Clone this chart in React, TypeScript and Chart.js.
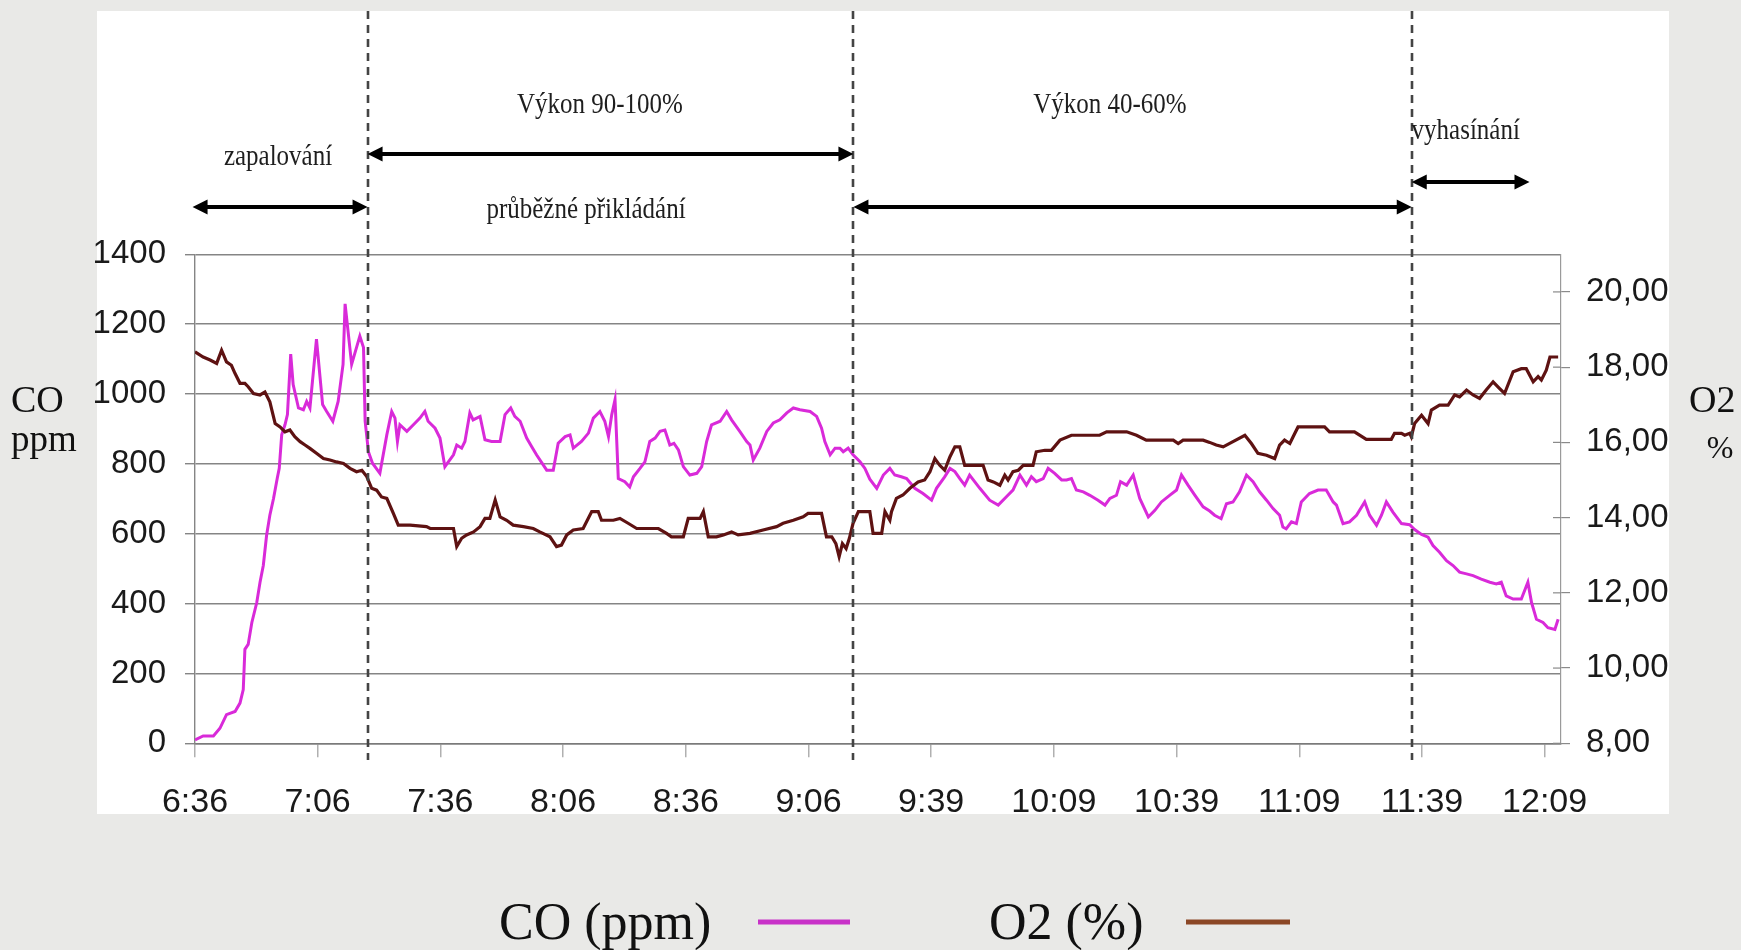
import React, { useEffect, useRef } from "react";
import { Chart, registerables } from "chart.js";

Chart.register(...registerables);

// ---- Data (x = sample index, one label every 30 samples) ----
const TIME_LABELS = ["6:36", "7:06", "7:36", "8:06", "8:36", "9:06", "9:39", "10:09", "10:39", "11:09", "11:39", "12:09"];
const SAMPLES_PER_LABEL = 30;
const X_MAX = 334;

const CO_TICKS = [0, 200, 400, 600, 800, 1000, 1200, 1400];
const O2_TICKS = [8, 10, 12, 14, 16, 18, 20];

const CO_T = [
  0, 2, 4.5, 6.1, 7.7, 9.8, 11, 11.8, 12.2, 13, 13.9, 15.1, 15.9, 16.7, 17.5, 18.3, 19.2, 20.1, 20.6, 21.2,
  22, 22.6, 23.4, 24, 25.3, 26.5, 27.3, 28.1, 29.7, 31.2, 32.2, 33.7, 35, 36.2, 36.7, 38.3, 40.3, 41.2, 41.6, 42.4,
  43.4, 45.2, 46.9, 48.1, 48.9, 49.5, 50.1, 51.8, 53.4, 55, 56.2, 57, 58.7, 59.9, 61.1, 63.2, 64, 65.2, 66, 67.2,
  68, 69.7, 70.9, 72.5, 74.6, 75.8, 77.2, 78.2, 79.5, 81.1, 82.3, 83.5, 86, 87.6, 88.8, 90.5, 91.7, 92.5, 94.5, 96.2,
  97.4, 99, 100.2, 101.1, 101.9, 102.7, 103.5, 105.1, 106.3, 107.2, 108.8, 110, 111.2, 112.5, 113.7, 114.9, 116.1, 117.1, 118.2, 119.4,
  121, 122.7, 123.9, 125.1, 126.3, 128.4, 130, 131.2, 133.2, 134.9, 135.7, 136.5, 138.1, 139.8, 141.4, 143, 144.7, 146.3, 147.9, 150.4,
  152, 153.2, 154, 155.3, 156.5, 157.7, 158.5, 159.7, 160.9, 162.6, 163.8, 165, 166.7, 168.3, 169.9, 171.1, 172.7, 174, 176, 178,
  180.1, 181.3, 183.3, 184.6, 185.8, 187, 188.2, 189.4, 191.9, 194.3, 196.4, 198.4, 200, 201.7, 203.3, 204.5, 205.7, 207.4, 208.6, 210.2,
  211.9, 213.1, 214.3, 215.5, 217.2, 218.8, 220.8, 222.5, 223.7, 225.3, 226.3, 227.8, 229.4, 231, 233.1, 234.7, 236.3, 238.3, 240, 241.2,
  242.8, 244.5, 246.5, 248.1, 249.3, 250.9, 252.2, 253.8, 255.4, 257.1, 258.7, 260.3, 262, 263.6, 265.2, 266, 266.8, 268.1, 269.3, 270.5,
  272.5, 274.6, 276.6, 278.3, 279.1, 280.7, 282.3, 284, 286, 287.2, 288.9, 290.1, 291.3, 292.9, 295, 297, 298.2, 299.9, 301.5, 302.7,
  304.3, 306, 307.6, 309.2, 310.9, 312.5, 314.5, 316.6, 318.2, 319.4, 320.6, 322.3, 324.3, 325.9, 326.8, 328, 329.6, 330.8, 332.5, 333.3,
];
const CO_PPM = [
  10, 21, 21, 43, 82, 91, 115, 154, 269, 283, 346, 403, 461, 509, 595, 653, 701, 758, 787, 883,
  912, 941, 1114, 1027, 960, 955, 979, 960, 1157, 970, 950, 922, 979, 1085, 1258, 1085, 1166, 1133, 922, 835,
  802, 773, 883, 950, 931, 864, 912, 893, 912, 931, 950, 922, 902, 874, 792, 826, 854, 845, 864, 946,
  926, 936, 869, 864, 864, 941, 960, 936, 922, 874, 850, 826, 782, 782, 859, 878, 883, 845, 864, 888,
  931, 950, 922, 878, 941, 984, 758, 749, 734, 763, 787, 806, 864, 874, 893, 897, 854, 859, 840, 792,
  768, 773, 792, 864, 912, 922, 950, 926, 893, 864, 854, 811, 845, 893, 917, 926, 946, 960, 955, 950,
  936, 902, 864, 826, 845, 845, 835, 845, 826, 806, 787, 756, 730, 768, 787, 768, 763, 758, 730, 715,
  696, 730, 763, 787, 778, 758, 739, 768, 730, 696, 682, 706, 725, 768, 739, 763, 749, 758, 787, 773,
  754, 754, 758, 725, 720, 710, 696, 682, 701, 710, 749, 739, 768, 701, 648, 667, 691, 710, 725, 768,
  739, 710, 677, 665, 653, 643, 686, 691, 720, 768, 749, 720, 696, 672, 653, 619, 614, 634, 629, 691,
  715, 725, 725, 691, 682, 629, 634, 653, 691, 653, 624, 653, 691, 662, 629, 626, 612, 598, 590, 566,
  547, 523, 509, 490, 485, 480, 470, 461, 456, 461, 422, 413, 413, 461, 403, 355, 346, 331, 326, 355,
];

const O2_T = [
  0, 2, 3.7, 5.3, 6.5, 7.7, 8.9, 9.8, 11, 12.2, 13, 14.3, 15.9, 17.1, 18.3, 19.6, 20.8, 22, 23.2, 24.4,
  25.7, 26.9, 28.1, 29.7, 31.4, 33, 34.6, 36.3, 37.9, 39.5, 40.8, 42, 43.2, 44.4, 45.6, 46.9, 48.5, 49.7, 52.6, 56.6,
  57.5, 63.2, 64, 65.2, 66.4, 68.1, 69.7, 70.9, 72.1, 73.4, 74.6, 76.2, 77.8, 80.3, 82.7, 84.3, 86.8, 88.4, 89.6, 90.9,
  92.5, 94.9, 97, 98.6, 99.4, 102.3, 103.9, 105.9, 108, 113.3, 115.3, 116.5, 119.4, 120.6, 123.5, 124.3, 125.5, 127.5, 129.2, 131.2,
  132.8, 135.7, 138.9, 142.2, 143.8, 146.3, 148.7, 149.9, 153.2, 154.4, 155.7, 156.7, 157.5, 158.3, 159.2, 160, 160.9, 162.2, 165, 165.8,
  167.9, 168.7, 169.9, 170.3, 171.5, 173.1, 174.8, 176.8, 178.4, 179.7, 180.9, 182.1, 183.3, 184.6, 185.8, 187, 188.2, 192.7, 193.9, 195.2,
  196.8, 198, 198.8, 200, 201.3, 202.5, 204.9, 205.7, 207.8, 209.4, 211.5, 214.3, 221.2, 222.9, 227.8, 230.2, 232.6, 239.2, 240.4, 241.6,
  246.5, 248.1, 249.7, 251.4, 253.8, 256.7, 258.3, 259.9, 262, 264, 265.2, 266.4, 267.7, 268.5, 269.7, 276.2, 277.4, 283.5, 286.4, 292.5,
  293.3, 295, 295.8, 297, 297.4, 298.2, 299.9, 301.5, 302.3, 304.3, 306.4, 308, 309.2, 310.9, 312.5, 314.1, 315.7, 317.4, 319, 320.2,
  322.3, 324.3, 325.5, 327.2, 328.4, 329.2, 330.4, 331.3, 333.3,
];
const O2_PCT = [
  18.41, 18.27, 18.19, 18.1, 18.45, 18.14, 18.05, 17.83, 17.57, 17.57, 17.48, 17.3, 17.26, 17.34, 17.08, 16.5, 16.41, 16.28, 16.33, 16.15,
  16.02, 15.93, 15.84, 15.71, 15.57, 15.53, 15.48, 15.44, 15.31, 15.22, 15.26, 15.09, 14.78, 14.73, 14.55, 14.51, 14.11, 13.8, 13.8, 13.76,
  13.71, 13.71, 13.23, 13.45, 13.54, 13.62, 13.76, 13.98, 13.98, 14.47, 14.02, 13.93, 13.8, 13.76, 13.71, 13.62, 13.49, 13.23, 13.27, 13.54,
  13.67, 13.71, 14.16, 14.16, 13.93, 13.93, 13.98, 13.85, 13.71, 13.71, 13.58, 13.49, 13.49, 13.98, 13.98, 14.16, 13.49, 13.49, 13.54, 13.62,
  13.54, 13.58, 13.67, 13.76, 13.85, 13.93, 14.02, 14.11, 14.11, 13.49, 13.49, 13.31, 12.96, 13.31, 13.18, 13.45, 13.85, 14.16, 14.16, 13.58,
  13.58, 14.16, 13.93, 14.16, 14.51, 14.6, 14.78, 14.95, 15.0, 15.22, 15.57, 15.39, 15.26, 15.62, 15.88, 15.88, 15.39, 15.39, 15.0, 14.95,
  14.86, 15.13, 15.0, 15.22, 15.26, 15.39, 15.39, 15.75, 15.79, 15.79, 16.06, 16.19, 16.19, 16.28, 16.28, 16.19, 16.06, 16.06, 15.97, 16.06,
  16.06, 16.0, 15.93, 15.88, 16.02, 16.19, 15.97, 15.71, 15.66, 15.57, 15.93, 16.06, 15.97, 16.15, 16.41, 16.41, 16.28, 16.28, 16.08, 16.08,
  16.24, 16.24, 16.19, 16.24, 16.15, 16.5, 16.72, 16.5, 16.86, 16.99, 16.99, 17.26, 17.21, 17.39, 17.26, 17.17, 17.39, 17.61, 17.43, 17.3,
  17.88, 17.96, 17.96, 17.61, 17.75, 17.66, 17.92, 18.27, 18.27,
];

// Phase boundaries (sample index) and annotations
const PHASE_BOUNDS = [42.2, 161, 297.5];
const PHASE_ARROWS = [
  { from: -0.6, to: 42.2, y: 207 },
  { from: 42.2, to: 161, y: 154 },
  { from: 161, to: 297.5, y: 207 },
  { from: 297.5, to: 326.3, y: 182 },
];
const PHASE_TEXTS = [
  { text: "zapalování", at: 20.3, y: 157 },
  { text: "Výkon 90-100%", at: 99, y: 105 },
  { text: "průběžné přikládání", at: 95.6, y: 210 },
  { text: "Výkon 40-60%", at: 223.7, y: 105 },
  { text: "vyhasínání", at: 310.7, y: 131 },
];

const CO_COLOR = "#d92ad9";
const O2_COLOR = "#5e1212";
const TICK_FONT = '"Liberation Sans", Arial, sans-serif';
const SERIF = '"Liberation Serif", "Times New Roman", serif';

const decorPlugin = {
  id: "decor",
  beforeDraw(chart: any) {
    const { ctx, width, height } = chart;
    ctx.save();
    ctx.fillStyle = "#e9e9e7";
    ctx.fillRect(0, 0, width, height);
    ctx.fillStyle = "#ffffff";
    ctx.fillRect(97, 11, 1572, 803);
    ctx.restore();
  },
  afterDatasetsDraw(chart: any) {
    const { ctx } = chart;
    const xs = chart.scales.x;
    const y2 = chart.scales.y2;
    ctx.save();
    // inner half of the right-axis tick marks
    ctx.strokeStyle = "#8a8a8a";
    ctx.lineWidth = 1.2;
    O2_TICKS.forEach((v) => {
      const py = y2.getPixelForValue(v);
      ctx.beginPath();
      ctx.moveTo(y2.left - 8, py);
      ctx.lineTo(y2.left, py);
      ctx.stroke();
    });
    // phase boundaries
    ctx.strokeStyle = "#444";
    ctx.lineWidth = 2.6;
    ctx.setLineDash([8, 6]);
    PHASE_BOUNDS.forEach((b) => {
      const px = Math.round(xs.getPixelForValue(b));
      ctx.beginPath();
      ctx.moveTo(px, 11);
      ctx.lineTo(px, 760);
      ctx.stroke();
    });
    ctx.restore();
  },
  afterDraw(chart: any) {
    const { ctx } = chart;
    const xs = chart.scales.x;
    ctx.save();
    // arrows
    ctx.fillStyle = "#000";
    ctx.strokeStyle = "#000";
    ctx.lineWidth = 4;
    PHASE_ARROWS.forEach((a) => {
      const x1 = xs.getPixelForValue(a.from);
      const x2 = xs.getPixelForValue(a.to);
      const y = a.y;
      const head = 15;
      const hw = 7.5;
      ctx.beginPath();
      ctx.moveTo(x1 + head - 2, y);
      ctx.lineTo(x2 - head + 2, y);
      ctx.stroke();
      ctx.beginPath();
      ctx.moveTo(x1, y);
      ctx.lineTo(x1 + head, y - hw);
      ctx.lineTo(x1 + head, y + hw);
      ctx.closePath();
      ctx.fill();
      ctx.beginPath();
      ctx.moveTo(x2, y);
      ctx.lineTo(x2 - head, y - hw);
      ctx.lineTo(x2 - head, y + hw);
      ctx.closePath();
      ctx.fill();
    });
    // phase texts (vertically stretched serif)
    ctx.fillStyle = "#1e1e1e";
    ctx.font = `25px ${SERIF}`;
    ctx.textAlign = "center";
    ctx.textBaseline = "middle";
    PHASE_TEXTS.forEach((t) => {
      ctx.save();
      ctx.translate(xs.getPixelForValue(t.at), t.y);
      ctx.scale(1, 1.2);
      ctx.fillText(t.text, 0, 0);
      ctx.restore();
    });
    // axis side labels
    ctx.fillStyle = "#111";
    ctx.textBaseline = "alphabetic";
    ctx.textAlign = "left";
    ctx.font = `38px ${SERIF}`;
    ctx.fillText("CO", 11, 412);
    ctx.font = `37px ${SERIF}`;
    ctx.fillText("ppm", 11, 451);
    ctx.font = `38px ${SERIF}`;
    ctx.fillText("O2", 1689, 412);
    ctx.textAlign = "center";
    ctx.font = `32px ${SERIF}`;
    ctx.fillText("%", 1720, 458);
    // legend
    ctx.textAlign = "left";
    ctx.font = `52px ${SERIF}`;
    ctx.fillStyle = "#111";
    ctx.fillText("CO (ppm)", 499, 939);
    ctx.fillText("O2 (%)", 989, 939);
    ctx.lineWidth = 5;
    ctx.strokeStyle = "#c832c8";
    ctx.beginPath();
    ctx.moveTo(758, 922);
    ctx.lineTo(850, 922);
    ctx.stroke();
    ctx.strokeStyle = "#8b4726";
    ctx.beginPath();
    ctx.moveTo(1186, 922);
    ctx.lineTo(1290, 922);
    ctx.stroke();
    ctx.restore();
  },
};

export default function App() {
  const ref = useRef<HTMLCanvasElement>(null);
  useEffect(() => {
    document.body.style.margin = "0";
    const coData = CO_T.map((t, i) => ({ x: t, y: CO_PPM[i] }));
    const o2Data = O2_T.map((t, i) => ({ x: t, y: O2_PCT[i] }));
    const chart = new Chart(ref.current as HTMLCanvasElement, {
      type: "line",
      data: {
        datasets: [
          {
            label: "CO (ppm)",
            data: coData,
            yAxisID: "y",
            borderColor: CO_COLOR,
            borderWidth: 3,
            pointRadius: 0,
            tension: 0,
            order: 1,
          },
          {
            label: "O2 (%)",
            data: o2Data,
            yAxisID: "y2",
            borderColor: O2_COLOR,
            borderWidth: 3.2,
            pointRadius: 0,
            tension: 0,
            order: 0,
          },
        ],
      },
      options: {
        responsive: false,
        animation: false,
        devicePixelRatio: 1,
        layout: { padding: { top: 254.3, left: 0, right: 0, bottom: 0 } },
        plugins: { legend: { display: false }, tooltip: { enabled: false } },
        scales: {
          x: {
            type: "linear",
            min: 0,
            max: X_MAX,
            afterBuildTicks: (s: any) => {
              s.ticks = TIME_LABELS.map((_, k) => ({ value: k * SAMPLES_PER_LABEL }));
            },
            afterFit: (s: any) => {
              s.height = 950 - 743.3;
            },
            ticks: {
              autoSkip: false,
              maxRotation: 0,
              padding: 25,
              color: "#1a1a1a",
              font: { family: TICK_FONT, size: 34 },
              callback: (v: any) => TIME_LABELS[Math.round(Number(v) / SAMPLES_PER_LABEL)] ?? "",
            },
            grid: { drawOnChartArea: false, drawTicks: true, tickLength: 14, color: "#b0b0b0", lineWidth: 1.5 },
            border: { display: true, color: "#7a7a7a", width: 1.5 },
          },
          y: {
            type: "linear",
            position: "left",
            min: 0,
            max: 1400,
            afterBuildTicks: (s: any) => {
              s.ticks = CO_TICKS.map((v) => ({ value: v }));
            },
            afterFit: (s: any) => {
              s.width = 195;
            },
            ticks: {
              padding: 19,
              color: "#1a1a1a",
              font: { family: TICK_FONT, size: 33 },
              callback: (v: any) => String(v),
            },
            grid: { color: "#858585", lineWidth: 1.4, tickLength: 10 },
            border: { display: true, color: "#858585", width: 1.4 },
          },
          y2: {
            type: "linear",
            position: "right",
            min: 8,
            max: 21,
            afterBuildTicks: (s: any) => {
              s.ticks = O2_TICKS.map((v) => ({ value: v }));
            },
            afterFit: (s: any) => {
              s.width = 1741 - 1561;
            },
            ticks: {
              padding: 16,
              color: "#1a1a1a",
              font: { family: TICK_FONT, size: 33 },
              callback: (v: any) => Number(v).toFixed(2).replace(".", ","),
            },
            grid: { drawOnChartArea: false, tickLength: 9, color: "#8a8a8a", lineWidth: 1.2 },
            border: { display: true, color: "#9a9a9a", width: 1.2 },
          },
        },
      },
      plugins: [decorPlugin],
    } as any);
    return () => chart.destroy();
  }, []);
  return (
    <canvas
      ref={ref}
      width={1741}
      height={950}
      style={{ position: "fixed", left: 0, top: 0, width: 1741, height: 950, display: "block" }}
    />
  );
}
